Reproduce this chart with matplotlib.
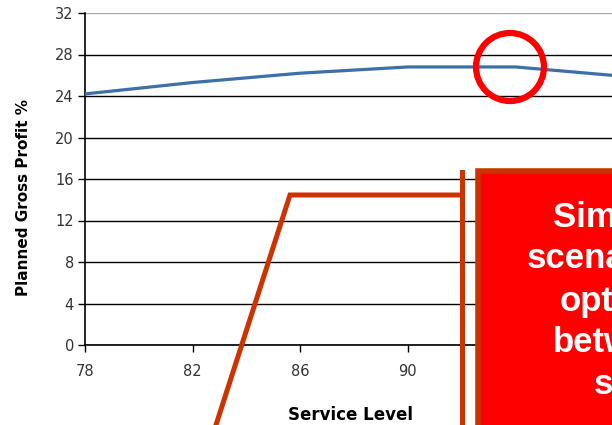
import numpy as np
import matplotlib
matplotlib.use('Agg')
import matplotlib.pyplot as plt
import matplotlib.patches as mpatches
import matplotlib.lines as mlines
from matplotlib.transforms import Affine2D

# ---------------------------------------------------------------------------
# data
service_level = [78, 82, 86, 90, 94, 98]
gross_profit = [24.2, 25.3, 26.2, 26.8, 26.8, 25.9]

xticks = [78, 82, 86, 90, 94]
yticks = [0, 4, 8, 12, 16, 20, 24, 28, 32]

box_lines = ['Sim', 'scena', 'opt', 'betw', 's']

# ---------------------------------------------------------------------------
W, H = 612, 425
fig = plt.figure(figsize=(W / 100., H / 100.), dpi=100)

# axes runs on past the right edge of the picture (chart is cropped)
ax = fig.add_axes([85. / W, 80. / H, 592. / W, 332. / H])

ax.plot(service_level, gross_profit, color='#3d6fa8', lw=2.3,
        solid_capstyle='round', zorder=3)

ax.set_xlim(78, 100)
ax.set_ylim(0, 32)
ax.set_xticks(xticks)
ax.set_yticks(yticks)

ax.grid(axis='y', color='black', lw=1.0, zorder=1)
ax.yaxis.get_gridlines()[-1].set_color('#aaaaaa')

for s in ['top', 'right']:
  ax.spines[s].set_visible(False)
ax.spines['left'].set_linewidth(1.2)
ax.spines['bottom'].set_linewidth(1.2)

ax.tick_params(axis='both', direction='out', length=5, width=1.0,
               labelsize=10.5, colors='black', labelcolor='#333333')
ax.tick_params(axis='x', pad=9)
ax.tick_params(axis='y', pad=3)

ax.set_ylabel('Planned Gross Profit %', fontsize=11, fontweight='bold')
ax.yaxis.set_label_coords(-54. / 592., (345. - 197.) / 332.)
ax.set_xlabel('Service Level', fontsize=12, fontweight='bold')
ax.xaxis.set_label_coords((350. - 85.) / 592., -61. / 332.)

# ---------------------------------------------------------------------------
# overlay shapes, placed in image pixel coordinates (origin at top left)
px = Affine2D().scale(1, -1).translate(0, H).scale(1. / W, 1. / H) + fig.transFigure

brown = '#cc3300'

ring = mpatches.Circle((510, 67), 34, transform=px, fill=False,
                       edgecolor='#ff0000', lw=4.5, zorder=10)
fig.add_artist(ring)

callout = mlines.Line2D([215, 290, 462], [428, 195, 195], transform=px,
                        color=brown, lw=3.6, solid_joinstyle='miter',
                        zorder=10)
fig.add_artist(callout)

bar = mlines.Line2D([462, 462], [172, 430], transform=px, color=brown,
                    lw=3.6, zorder=10)
fig.add_artist(bar)

box = mpatches.Rectangle((477.5, 171), 300, 300, transform=px,
                         facecolor='#ff0000', edgecolor=brown, lw=4.0,
                         zorder=11)
fig.add_artist(box)

text_x = [553, 527, 560, 553, 594]
for i, line in enumerate(box_lines):
  fig.text(text_x[i], 217 + 42 * i, line, transform=px, color='white',
           family=['Liberation Sans', 'DejaVu Sans'], fontweight='bold',
           fontsize=25, ha='left', va='center', zorder=12)

plt.savefig('out.png', dpi=100)
plt.close()
